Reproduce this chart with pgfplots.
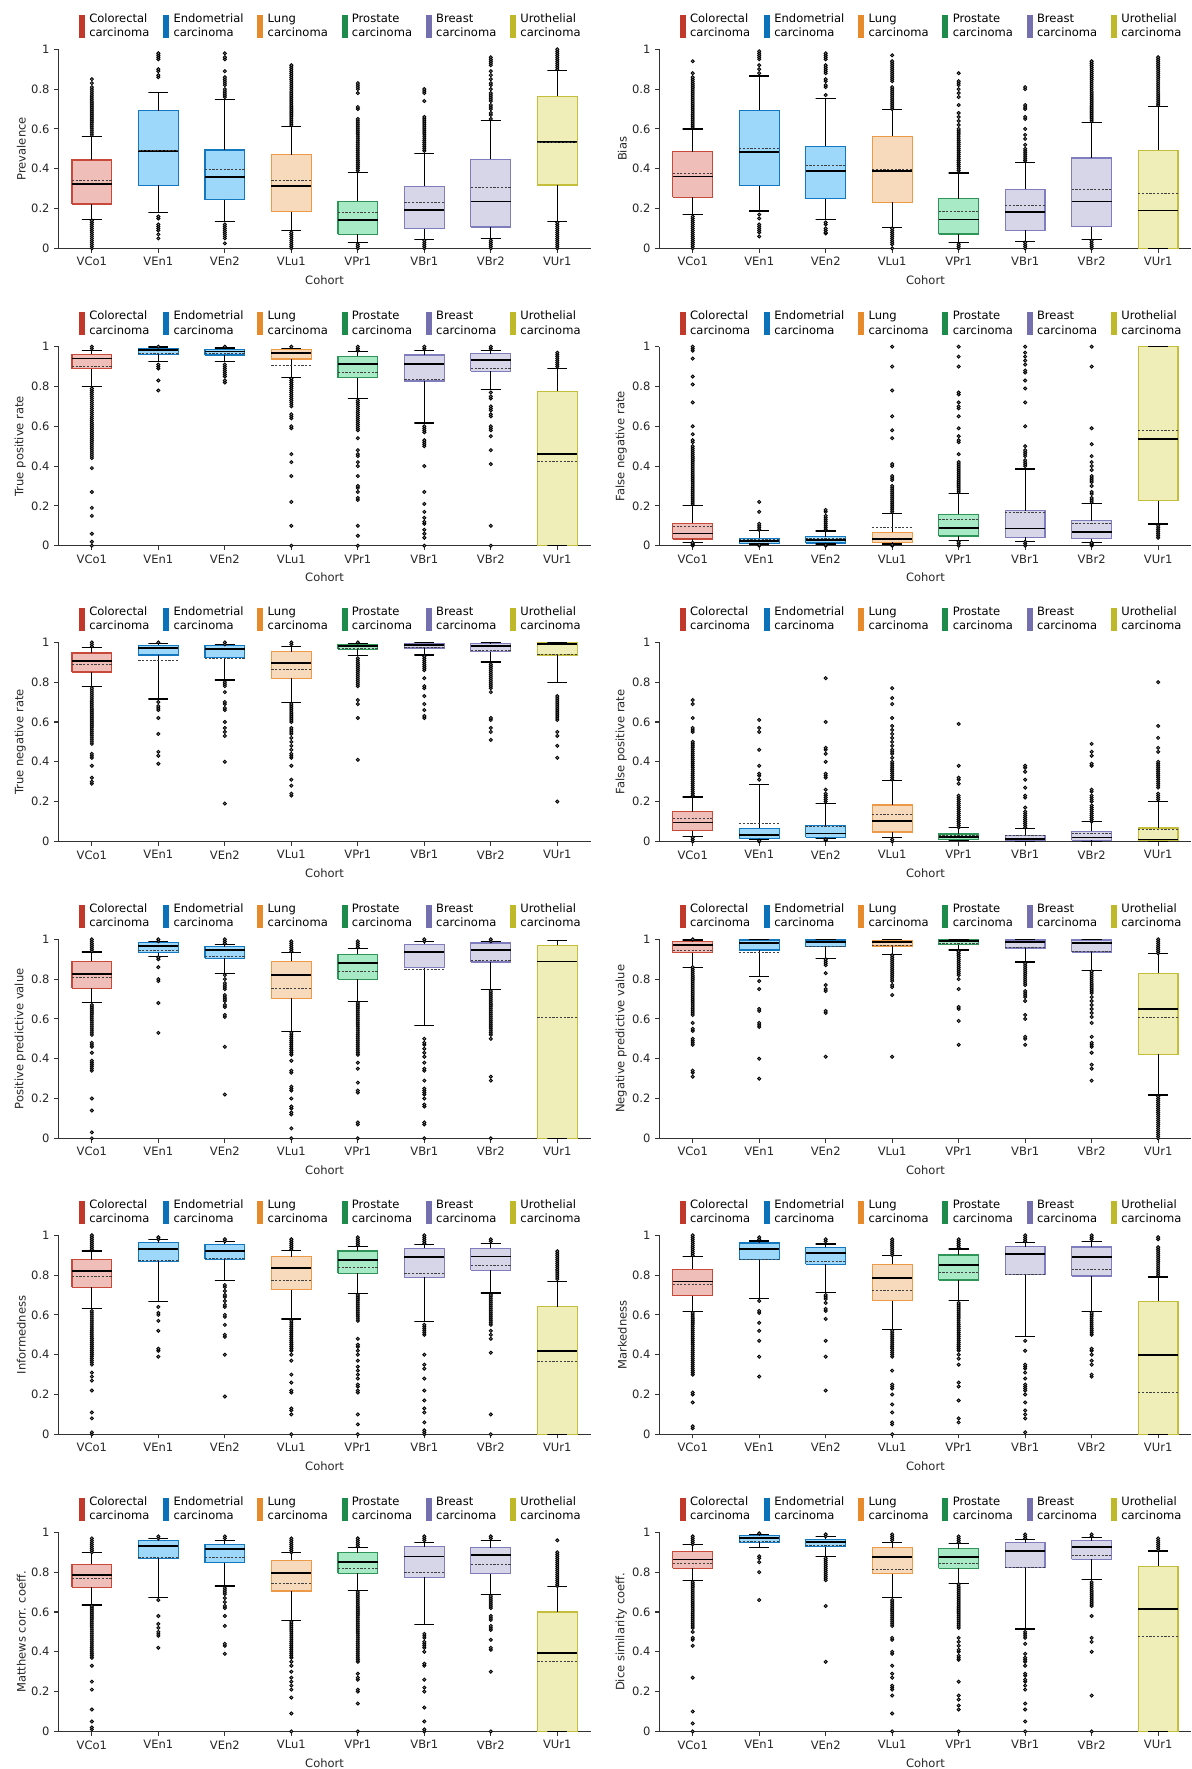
\documentclass[border=0pt]{standalone}
\usepackage{fontspec}
\setmainfont{DejaVu Sans}
\usepackage{pgfplots}
\pgfplotsset{compat=1.18}
\definecolor{cCo}{HTML}{C0392B}
\definecolor{cEn}{HTML}{0B72BA}
\definecolor{cLu}{HTML}{E68A2C}
\definecolor{cPr}{HTML}{1E8A4C}
\definecolor{cBr}{HTML}{7470B0}
\definecolor{cUr}{HTML}{BFB829}
\definecolor{eCo}{HTML}{C8483A}
\definecolor{eEn}{HTML}{1478C0}
\definecolor{eLu}{HTML}{EC9A48}
\definecolor{ePr}{HTML}{2E9458}
\definecolor{eBr}{HTML}{7F7DBD}
\definecolor{eUr}{HTML}{C4BE3A}
\definecolor{fCo}{HTML}{F0BEB8}
\definecolor{fEn}{HTML}{9DD8FA}
\definecolor{fLu}{HTML}{F6DABB}
\definecolor{fPr}{HTML}{A9EAC6}
\definecolor{fBr}{HTML}{D7D6E9}
\definecolor{fUr}{HTML}{EFEDB8}
\newcommand\fs{\fontsize{8.3pt}{10.3pt}\selectfont}
\pgfplotsset{
 legbar/.style={legend image code/.code={\fill[#1] (0pt,-7.4pt) rectangle (3.6pt,8.2pt);}},
 bxs/.style={draw=e#1, fill=f#1, line width=0.9pt, line join=miter, mark=none},
 whs/.style={black, line width=0.9pt, mark=none},
 meds/.style={black, line width=1.3pt, mark=none},
 avgs/.style={black!75, line width=0.6pt, dash pattern=on 1.6pt off 1.1pt, mark=none},
 outs/.style={only marks, mark=*, mark size=1.15pt, mark options={draw=black, fill=black!45, line width=0.6pt, solid}},
 pan/.style={
   scale only axis, width=383pt, height=143.3pt, anchor=north west,
   xmin=-0.5, xmax=7.5, ymin=0, ymax=1, clip=false,
   axis x line=bottom, axis y line=left,
   axis line style={-, black!80, line width=0.8pt},
   xtick={0,1,2,3,4,5,6,7},
   xticklabels={VCo1,VEn1,VEn2,VLu1,VPr1,VBr1,VBr2,VUr1},
   ytick={0,0.2,0.4,0.6,0.8,1},
   tick align=outside, major tick length=3pt,
   tick style={black!80, line width=0.8pt},
   xlabel={Cohort}, ylabel shift=-3pt,
   tick label style={font=\fs, text=black!85},
   label style={font=\fs, text=black!85},
   /pgf/number format/assume math mode=true,
   legend columns=6, legend cell align=left,
   legend style={draw=none, fill=none, at={(0,1)}, anchor=south west,
     xshift=14.4pt, yshift=5.8pt, inner sep=0pt, font=\fs,
     nodes={inner sep=0pt, text depth={}},
     /tikz/every odd column/.append style={column sep=3.5pt},
     /tikz/every even column/.append style={column sep=9.9pt}},
 }}
\newcommand\lt[1]{\begin{tabular}[b]{@{}l@{}}#1\\carcinoma\end{tabular}}
\newcommand\leg{%
 \addlegendimage{legbar=cCo}\addlegendentry{\lt{Colorectal}}%
 \addlegendimage{legbar=cEn}\addlegendentry{\lt{Endometrial}}%
 \addlegendimage{legbar=cLu}\addlegendentry{\lt{Lung}}%
 \addlegendimage{legbar=cPr}\addlegendentry{\lt{Prostate}}%
 \addlegendimage{legbar=cBr}\addlegendentry{\lt{Breast}}%
 \addlegendimage{legbar=cUr}\addlegendentry{\lt{Urothelial}}}
% pos, family, lower whisker, Q1, median, Q3, upper whisker, mean, outliers
\newcommand\bxcore[8]{%
 \pgfmathsetmacro\xl{#1-0.3}\pgfmathsetmacro\xr{#1+0.3}%
 \pgfmathsetmacro\wl{#1-0.15}\pgfmathsetmacro\wr{#1+0.15}%
 \edef\doplot{%
  \noexpand\addplot[bxs=#2] coordinates {(\xl,#4)(\xr,#4)(\xr,#6)(\xl,#6)(\xl,#4)};%
  \noexpand\addplot[whs] coordinates {(#1,#6)(#1,#7)(\wl,#7)(\wr,#7)};%
  \noexpand\addplot[whs] coordinates {(#1,#4)(#1,#3)(\wl,#3)(\wr,#3)};%
  \noexpand\addplot[meds] coordinates {(\xl,#5)(\xr,#5)};%
  \noexpand\addplot[avgs] coordinates {(\xl,#8)(\xr,#8)};}%
 \doplot}
\newcommand\bp[9]{%
 \bxcore{#1}{#2}{#3}{#4}{#5}{#6}{#7}{#8}%
 \gdef\olist{}\foreach \ov in {#9}{\xdef\olist{\olist(#1,\ov)}}%
 \edef\doplot{\noexpand\addplot[outs] coordinates {\olist};}%
 \doplot}
\newcommand\bpn[8]{\bxcore{#1}{#2}{#3}{#4}{#5}{#6}{#7}{#8}}
\begin{document}
\begin{tikzpicture}
\path[use as bounding box] (0,0) rectangle (858.24pt,-1273.68pt);
% ---------------- Prevalence
\begin{axis}[pan, at={(42.2pt,-35.5pt)}, ylabel={Prevalence}]
\leg
\bp{0}{Co}{0.146}{0.223}{0.322}{0.444}{0.563}{0.342}{0,0.01,0.02,0.03,0.04,0.05,0.06,0.07,0.08,0.09,0.1,0.11,0.12,0.13,0.14,0.57,0.58,0.59,0.6,0.61,0.62,0.63,0.64,0.65,0.66,0.67,0.68,0.69,0.7,0.71,0.72,0.73,0.74,0.75,0.76,0.77,0.78,0.79,0.8,0.81,0.83,0.85}
\bp{1}{En}{0.181}{0.317}{0.489}{0.692}{0.784}{0.492}{0.05,0.07,0.09,0.1,0.11,0.12,0.15,0.16,0.86,0.87,0.89,0.9,0.95,0.96,0.97,0.98}
\bp{2}{En}{0.134}{0.245}{0.360}{0.494}{0.747}{0.399}{0.025,0.05,0.06,0.07,0.08,0.09,0.1,0.11,0.12,0.76,0.77,0.78,0.79,0.8,0.82,0.83,0.84,0.85,0.86,0.89,0.95,0.96,0.98}
\bp{3}{Lu}{0.090}{0.184}{0.315}{0.471}{0.611}{0.340}{0,0.01,0.02,0.03,0.04,0.05,0.06,0.07,0.08,0.62,0.63,0.64,0.65,0.66,0.67,0.68,0.69,0.7,0.71,0.72,0.73,0.74,0.75,0.76,0.77,0.78,0.79,0.8,0.81,0.82,0.83,0.84,0.85,0.86,0.87,0.88,0.89,0.9,0.91,0.92}
\bp{4}{Pr}{0.028}{0.070}{0.141}{0.236}{0.380}{0.181}{0,0.01,0.02,0.39,0.4,0.41,0.42,0.43,0.44,0.45,0.46,0.47,0.48,0.49,0.5,0.51,0.52,0.53,0.54,0.55,0.56,0.57,0.58,0.59,0.6,0.61,0.62,0.63,0.64,0.65,0.7,0.71,0.78,0.8,0.81,0.82,0.83}
\bp{5}{Br}{0.045}{0.099}{0.194}{0.312}{0.477}{0.229}{0,0.01,0.02,0.03,0.04,0.49,0.5,0.51,0.52,0.53,0.54,0.55,0.56,0.57,0.58,0.59,0.6,0.61,0.62,0.63,0.64,0.65,0.66,0.74,0.78,0.79,0.8}
\bp{6}{Br}{0.050}{0.107}{0.235}{0.447}{0.643}{0.308}{0,0.01,0.02,0.03,0.04,0.65,0.67,0.68,0.7,0.71,0.72,0.74,0.75,0.76,0.77,0.78,0.8,0.82,0.83,0.85,0.87,0.89,0.92,0.93,0.94,0.95,0.96}
\bp{7}{Ur}{0.134}{0.318}{0.534}{0.764}{0.894}{0.533}{0,0.01,0.02,0.03,0.04,0.05,0.06,0.07,0.08,0.09,0.1,0.11,0.12,0.13,0.9,0.91,0.92,0.93,0.94,0.95,0.96,0.97,0.98,0.99,1}
\end{axis}
% ---------------- Bias
\begin{axis}[pan, at={(474.8pt,-35.5pt)}, ylabel={Bias}]
\leg
\bp{0}{Co}{0.171}{0.257}{0.361}{0.486}{0.600}{0.378}{0,0.01,0.02,0.03,0.04,0.05,0.06,0.07,0.08,0.09,0.1,0.11,0.12,0.13,0.14,0.15,0.16,0.61,0.62,0.63,0.64,0.65,0.66,0.67,0.68,0.69,0.7,0.71,0.72,0.73,0.74,0.75,0.76,0.77,0.78,0.79,0.8,0.81,0.82,0.83,0.84,0.85,0.86,0.88,0.94}
\bp{1}{En}{0.188}{0.314}{0.484}{0.694}{0.866}{0.501}{0.06,0.08,0.09,0.1,0.11,0.12,0.15,0.17,0.88,0.9,0.92,0.95,0.96,0.97,0.98,0.99}
\bp{2}{En}{0.143}{0.249}{0.388}{0.513}{0.751}{0.417}{0.075,0.08,0.09,0.1,0.12,0.13,0.77,0.81,0.82,0.84,0.85,0.88,0.89,0.9,0.91,0.92,0.95,0.96,0.97,0.98}
\bp{3}{Lu}{0.106}{0.232}{0.387}{0.563}{0.699}{0.397}{0,0.02,0.03,0.04,0.05,0.06,0.07,0.08,0.09,0.1,0.7,0.71,0.72,0.73,0.74,0.75,0.76,0.77,0.78,0.79,0.8,0.81,0.84,0.85,0.86,0.87,0.88,0.89,0.9,0.91,0.92,0.93,0.94,0.97}
\bp{4}{Pr}{0.030}{0.072}{0.145}{0.250}{0.378}{0.183}{0,0.01,0.02,0.39,0.4,0.41,0.42,0.43,0.44,0.45,0.46,0.47,0.48,0.49,0.5,0.51,0.52,0.53,0.54,0.55,0.56,0.57,0.58,0.59,0.6,0.62,0.64,0.66,0.68,0.72,0.76,0.78,0.8,0.82,0.83,0.84,0.88}
\bp{5}{Br}{0.035}{0.091}{0.183}{0.296}{0.432}{0.215}{0,0.01,0.02,0.03,0.44,0.45,0.46,0.47,0.48,0.49,0.5,0.52,0.55,0.57,0.6,0.65,0.66,0.7,0.71,0.72,0.8,0.81}
\bp{6}{Br}{0.044}{0.109}{0.235}{0.454}{0.634}{0.297}{0,0.01,0.02,0.03,0.04,0.64,0.65,0.66,0.67,0.68,0.69,0.7,0.71,0.72,0.73,0.74,0.75,0.76,0.77,0.78,0.79,0.8,0.81,0.82,0.83,0.84,0.85,0.86,0.87,0.88,0.89,0.9,0.91,0.92,0.93,0.94}
\bp{7}{Ur}{0}{0}{0.190}{0.492}{0.711}{0.276}{0.72,0.73,0.74,0.75,0.76,0.77,0.78,0.79,0.8,0.81,0.82,0.83,0.84,0.85,0.86,0.87,0.88,0.89,0.9,0.91,0.92,0.93,0.94,0.95,0.96}
\end{axis}
% ---------------- TPR
\begin{axis}[pan, at={(42.2pt,-249.6pt)}, ylabel={True positive rate}]
\leg
\bp{0}{Co}{0.798}{0.889}{0.941}{0.961}{0.982}{0.903}{0,0.02,0.06,0.15,0.19,0.27,0.39,0.44,0.45,0.46,0.47,0.48,0.49,0.5,0.51,0.52,0.53,0.54,0.55,0.56,0.57,0.58,0.59,0.6,0.61,0.62,0.63,0.64,0.65,0.66,0.67,0.68,0.69,0.7,0.71,0.72,0.73,0.74,0.75,0.76,0.77,0.78,0.79,0.99,1}
\bp{1}{En}{0.926}{0.961}{0.982}{0.992}{0.998}{0.966}{0.78,0.83,0.89,0.9,0.91,1}
\bp{2}{En}{0.926}{0.958}{0.976}{0.987}{0.993}{0.966}{0.82,0.83,0.85,0.86,0.87,0.88,0.89,0.9,0.91,1}
\bp{3}{Lu}{0.845}{0.938}{0.970}{0.987}{0.992}{0.906}{0,0.1,0.22,0.35,0.42,0.46,0.59,0.6,0.64,0.65,0.66,0.7,0.71,0.72,0.73,0.74,0.75,0.76,0.77,0.78,0.79,0.8,0.81,0.82,0.83,0.84,1}
\bp{4}{Pr}{0.741}{0.844}{0.914}{0.951}{0.975}{0.869}{0,0.05,0.1,0.23,0.24,0.27,0.29,0.3,0.35,0.4,0.42,0.45,0.46,0.48,0.54,0.58,0.59,0.6,0.61,0.62,0.63,0.64,0.65,0.66,0.67,0.68,0.69,0.7,0.71,0.72,0.73,0.98,0.99,1}
\bp{5}{Br}{0.617}{0.827}{0.914}{0.958}{0.982}{0.834}{0,0.04,0.06,0.08,0.11,0.12,0.14,0.17,0.21,0.27,0.4,0.5,0.51,0.52,0.53,0.57,0.58,0.59,0.6,0.99,1}
\bp{6}{Br}{0.785}{0.876}{0.934}{0.965}{0.980}{0.891}{0,0.1,0.41,0.48,0.55,0.58,0.59,0.6,0.65,0.66,0.68,0.69,0.7,0.74,0.75,0.77,0.99,1}
\bp{7}{Ur}{0}{0}{0.462}{0.776}{0.891}{0.424}{0.9,0.91,0.92,0.93,0.94,0.95,0.96,0.97}
\end{axis}
% ---------------- FNR
\begin{axis}[pan, at={(474.8pt,-249.6pt)}, ylabel={False negative rate}]
\leg
\bp{0}{Co}{0.017}{0.034}{0.061}{0.113}{0.203}{0.099}{0,0.005,0.01,0.015,0.21,0.22,0.23,0.24,0.25,0.26,0.27,0.28,0.29,0.3,0.31,0.32,0.33,0.34,0.35,0.36,0.37,0.38,0.39,0.4,0.41,0.42,0.43,0.44,0.45,0.46,0.47,0.48,0.49,0.5,0.52,0.53,0.56,0.6,0.72,0.81,0.85,0.94,0.98,0.99,1}
\bp{1}{En}{0.008}{0.012}{0.022}{0.037}{0.076}{0.034}{0,0.004,0.08,0.09,0.1,0.11,0.17,0.22}
\bp{2}{En}{0.008}{0.013}{0.027}{0.045}{0.074}{0.035}{0,0.004,0.08,0.09,0.1,0.11,0.12,0.13,0.14,0.15,0.17,0.18}
\bp{3}{Lu}{0.008}{0.017}{0.034}{0.067}{0.160}{0.094}{0,0.004,0.17,0.18,0.19,0.2,0.21,0.22,0.23,0.24,0.25,0.26,0.27,0.28,0.29,0.3,0.33,0.34,0.35,0.4,0.41,0.54,0.58,0.65,0.78,0.9,1}
\bp{4}{Pr}{0.027}{0.049}{0.087}{0.158}{0.261}{0.134}{0,0.01,0.02,0.27,0.28,0.29,0.3,0.31,0.32,0.33,0.34,0.35,0.36,0.37,0.38,0.39,0.4,0.41,0.42,0.46,0.52,0.53,0.55,0.59,0.65,0.69,0.7,0.72,0.76,0.77,0.9,0.95,1}
\bp{5}{Br}{0.022}{0.042}{0.086}{0.175}{0.385}{0.165}{0,0.01,0.02,0.4,0.41,0.42,0.43,0.45,0.46,0.47,0.48,0.5,0.6,0.72,0.79,0.83,0.87,0.88,0.91,0.93,0.95,0.97,1}
\bp{6}{Br}{0.017}{0.035}{0.069}{0.126}{0.213}{0.111}{0,0.005,0.01,0.015,0.22,0.23,0.24,0.26,0.27,0.3,0.32,0.33,0.34,0.35,0.38,0.4,0.42,0.45,0.51,0.59,0.9,1}
\bp{7}{Ur}{0.109}{0.227}{0.538}{1}{1}{0.578}{0.04,0.05,0.06,0.07,0.08,0.09,0.1}
\end{axis}
% ---------------- TNR
\begin{axis}[pan, at={(42.2pt,-462.5pt)}, ylabel={True negative rate}]
\leg
\bp{0}{Co}{0.779}{0.851}{0.906}{0.946}{0.975}{0.888}{0.29,0.3,0.32,0.38,0.42,0.43,0.44,0.49,0.5,0.51,0.52,0.53,0.54,0.55,0.56,0.57,0.58,0.59,0.6,0.61,0.62,0.63,0.64,0.65,0.66,0.67,0.68,0.69,0.7,0.71,0.72,0.73,0.74,0.75,0.76,0.77,0.98,0.99,1}
\bp{1}{En}{0.715}{0.936}{0.970}{0.985}{0.993}{0.908}{0.39,0.43,0.45,0.54,0.62,0.66,0.67,0.68,0.7,1}
\bp{2}{En}{0.811}{0.923}{0.965}{0.983}{0.988}{0.921}{0.19,0.4,0.53,0.55,0.57,0.6,0.66,0.67,0.69,0.7,0.75,0.78,0.79,0.8,0.99,1}
\bp{3}{Lu}{0.697}{0.819}{0.898}{0.953}{0.980}{0.864}{0.23,0.24,0.28,0.31,0.38,0.42,0.43,0.44,0.46,0.48,0.5,0.52,0.54,0.55,0.56,0.57,0.6,0.61,0.62,0.63,0.64,0.65,0.66,0.67,0.68,0.69,0.99,1}
\bp{4}{Pr}{0.933}{0.965}{0.983}{0.990}{0.995}{0.970}{0.41,0.62,0.69,0.71,0.78,0.79,0.8,0.81,0.82,0.83,0.84,0.85,0.86,0.87,0.88,0.89,0.9,0.91,0.92,1}
\bp{5}{Br}{0.936}{0.972}{0.987}{0.995}{1}{0.975}{0.62,0.63,0.66,0.69,0.73,0.77,0.78,0.82,0.86,0.87,0.88,0.89,0.9,0.91,0.92,0.93}
\bp{6}{Br}{0.901}{0.953}{0.983}{0.993}{1}{0.958}{0.51,0.55,0.57,0.61,0.62,0.75,0.77,0.78,0.79,0.8,0.81,0.82,0.83,0.84,0.85,0.86,0.87,0.88,0.89}
\bp{7}{Ur}{0.799}{0.936}{0.990}{1}{1}{0.940}{0.2,0.42,0.48,0.53,0.55,0.61,0.62,0.63,0.64,0.65,0.66,0.67,0.68,0.69,0.7,0.71,0.72,0.73}
\end{axis}
% ---------------- FPR
\begin{axis}[pan, at={(474.8pt,-462.5pt)}, ylabel={False positive rate}]
\leg
\bp{0}{Co}{0.023}{0.054}{0.095}{0.149}{0.223}{0.114}{0,0.01,0.02,0.23,0.24,0.25,0.26,0.27,0.28,0.29,0.3,0.31,0.32,0.33,0.34,0.35,0.36,0.37,0.38,0.39,0.4,0.41,0.42,0.43,0.44,0.45,0.46,0.47,0.48,0.49,0.5,0.55,0.56,0.57,0.62,0.69,0.71}
\bp{1}{En}{0.008}{0.013}{0.034}{0.065}{0.285}{0.090}{0,0.004,0.31,0.33,0.34,0.38,0.46,0.55,0.57,0.61}
\bp{2}{En}{0.013}{0.020}{0.040}{0.079}{0.189}{0.077}{0.005,0.01,0.2,0.21,0.22,0.23,0.24,0.26,0.32,0.33,0.34,0.4,0.44,0.46,0.47,0.6,0.82}
\bp{3}{Lu}{0.020}{0.047}{0.104}{0.183}{0.305}{0.136}{0,0.01,0.31,0.32,0.33,0.34,0.35,0.36,0.37,0.38,0.39,0.4,0.42,0.44,0.45,0.46,0.48,0.5,0.52,0.54,0.56,0.58,0.62,0.69,0.72,0.77}
\bp{4}{Pr}{0.003}{0.008}{0.022}{0.037}{0.069}{0.032}{0.07,0.08,0.09,0.1,0.11,0.12,0.13,0.14,0.15,0.16,0.17,0.18,0.19,0.2,0.21,0.22,0.23,0.29,0.31,0.32,0.38,0.59}
\bp{5}{Br}{0}{0.003}{0.013}{0.030}{0.065}{0.030}{0.07,0.08,0.09,0.1,0.11,0.12,0.13,0.14,0.15,0.17,0.22,0.23,0.27,0.31,0.35,0.37,0.38}
\bp{6}{Br}{0}{0.005}{0.020}{0.050}{0.099}{0.040}{0.1,0.11,0.12,0.13,0.14,0.15,0.16,0.17,0.18,0.2,0.21,0.22,0.23,0.25,0.26,0.38,0.39,0.43,0.45,0.49}
\bp{7}{Ur}{0}{0.003}{0.010}{0.067}{0.199}{0.060}{0.21,0.22,0.23,0.24,0.27,0.28,0.29,0.3,0.31,0.32,0.33,0.34,0.35,0.36,0.37,0.38,0.39,0.4,0.45,0.47,0.52,0.58,0.8}
\end{axis}
% ---------------- PPV
\begin{axis}[pan, at={(42.2pt,-676.3pt)}, ylabel={Positive predictive value}]
\leg
\bp{0}{Co}{0.682}{0.754}{0.826}{0.889}{0.936}{0.807}{0,0.03,0.14,0.2,0.34,0.35,0.36,0.37,0.38,0.39,0.43,0.46,0.47,0.48,0.52,0.53,0.54,0.55,0.56,0.57,0.58,0.59,0.6,0.61,0.62,0.63,0.64,0.65,0.66,0.67,0.94,0.95,0.96,0.97,0.98,0.99,1}
\bp{1}{En}{0.915}{0.933}{0.968}{0.983}{0.988}{0.946}{0.53,0.68,0.79,0.8,0.86,0.9,0.91,0.99,1}
\bp{2}{En}{0.827}{0.905}{0.946}{0.963}{0.975}{0.915}{0.22,0.46,0.61,0.62,0.66,0.67,0.69,0.7,0.71,0.72,0.75,0.76,0.77,0.78,0.8,0.82,0.98,0.99,1}
\bp{3}{Lu}{0.538}{0.704}{0.819}{0.889}{0.935}{0.754}{0,0.05,0.12,0.13,0.15,0.16,0.2,0.24,0.25,0.26,0.33,0.34,0.39,0.42,0.43,0.44,0.45,0.46,0.47,0.48,0.49,0.5,0.51,0.52,0.53,0.94,0.95,0.96,0.97,0.98,0.99}
\bp{4}{Pr}{0.688}{0.799}{0.881}{0.925}{0.955}{0.839}{0,0.07,0.08,0.23,0.24,0.28,0.35,0.38,0.42,0.43,0.44,0.45,0.46,0.47,0.48,0.49,0.5,0.51,0.52,0.53,0.54,0.55,0.56,0.57,0.58,0.59,0.6,0.61,0.62,0.63,0.64,0.65,0.66,0.67,0.68,0.96,0.97,0.98,0.99}
\bp{5}{Br}{0.566}{0.858}{0.938}{0.975}{0.988}{0.849}{0,0.07,0.08,0.16,0.17,0.2,0.22,0.23,0.24,0.25,0.29,0.34,0.35,0.38,0.41,0.43,0.45,0.47,0.48,0.5,0.99,1}
\bp{6}{Br}{0.747}{0.886}{0.948}{0.982}{0.988}{0.893}{0,0.29,0.31,0.5,0.52,0.53,0.54,0.55,0.56,0.57,0.58,0.59,0.6,0.61,0.62,0.63,0.64,0.65,0.66,0.67,0.68,0.69,0.7,0.71,0.72,0.73,0.74,0.99,1}
\bpn{7}{Ur}{0}{0}{0.889}{0.970}{0.995}{0.606}
\end{axis}
% ---------------- NPV
\begin{axis}[pan, at={(474.8pt,-676.3pt)}, ylabel={Negative predictive value}]
\leg
\bp{0}{Co}{0.859}{0.933}{0.970}{0.988}{0.997}{0.943}{0.31,0.33,0.34,0.47,0.48,0.49,0.5,0.54,0.55,0.58,0.62,0.63,0.64,0.65,0.66,0.67,0.68,0.69,0.7,0.71,0.72,0.73,0.74,0.75,0.76,0.77,0.78,0.79,0.8,0.81,0.82,0.83,0.84,0.85,0.86,1}
\bp{1}{En}{0.812}{0.946}{0.983}{0.997}{1}{0.933}{0.3,0.4,0.56,0.57,0.58,0.64,0.65,0.75,0.79}
\bp{2}{En}{0.904}{0.963}{0.988}{0.997}{1}{0.963}{0.41,0.63,0.64,0.74,0.75,0.77,0.83,0.87,0.88,0.89,0.9}
\bp{3}{Lu}{0.924}{0.966}{0.987}{0.995}{1}{0.971}{0.41,0.72,0.76,0.77,0.79,0.8,0.81,0.82,0.83,0.84,0.85,0.86,0.87,0.88,0.89,0.9,0.91,0.92}
\bp{4}{Pr}{0.946}{0.973}{0.990}{0.997}{1}{0.980}{0.47,0.59,0.65,0.66,0.75,0.8,0.82,0.83,0.84,0.85,0.86,0.87,0.88,0.89,0.9,0.91,0.92,0.93,0.94}
\bp{5}{Br}{0.886}{0.956}{0.987}{0.997}{1}{0.958}{0.47,0.5,0.51,0.6,0.62,0.69,0.71,0.72,0.73,0.74,0.77,0.78,0.79,0.8,0.81,0.82,0.83,0.84,0.85,0.86,0.87,0.88}
\bp{6}{Br}{0.845}{0.936}{0.983}{0.997}{1}{0.939}{0.29,0.35,0.37,0.43,0.46,0.47,0.48,0.51,0.58,0.61,0.63,0.65,0.67,0.69,0.71,0.73,0.74,0.75,0.76,0.77,0.78,0.79,0.8,0.81,0.82,0.83,0.84}
\bp{7}{Ur}{0.218}{0.422}{0.650}{0.830}{0.928}{0.610}{0,0.01,0.02,0.03,0.04,0.05,0.06,0.07,0.08,0.09,0.1,0.11,0.12,0.13,0.14,0.15,0.16,0.17,0.18,0.19,0.2,0.21,0.93,0.94,0.95,0.96,0.97,0.98,0.99,1}
\end{axis}
% ---------------- Informedness
\begin{axis}[pan, at={(42.2pt,-889.4pt)}, ylabel={Informedness}]
\leg
\bp{0}{Co}{0.633}{0.739}{0.822}{0.878}{0.921}{0.791}{0,0.01,0.08,0.11,0.22,0.27,0.29,0.31,0.35,0.36,0.37,0.38,0.39,0.4,0.41,0.42,0.43,0.44,0.45,0.46,0.47,0.48,0.49,0.5,0.51,0.52,0.53,0.54,0.55,0.56,0.57,0.58,0.59,0.6,0.61,0.62,0.93,0.94,0.95,0.96,0.97,0.98,0.99,1}
\bp{1}{En}{0.667}{0.869}{0.933}{0.963}{0.977}{0.874}{0.39,0.42,0.43,0.52,0.57,0.6,0.61,0.64,0.98,0.99}
\bp{2}{En}{0.771}{0.879}{0.920}{0.955}{0.968}{0.886}{0.19,0.4,0.49,0.5,0.55,0.59,0.6,0.64,0.65,0.67,0.69,0.7,0.72,0.74,0.75,0.97,0.98}
\bp{3}{Lu}{0.580}{0.727}{0.836}{0.893}{0.925}{0.774}{0,0.1,0.12,0.13,0.21,0.22,0.26,0.3,0.37,0.4,0.42,0.43,0.44,0.45,0.46,0.47,0.48,0.49,0.5,0.51,0.52,0.53,0.54,0.55,0.56,0.57,0.93,0.94,0.95,0.96,0.97,0.98}
\bp{4}{Pr}{0.707}{0.809}{0.874}{0.921}{0.943}{0.839}{0,0.05,0.1,0.21,0.22,0.24,0.25,0.28,0.3,0.32,0.34,0.37,0.4,0.42,0.44,0.45,0.48,0.57,0.58,0.59,0.6,0.61,0.62,0.63,0.64,0.65,0.66,0.67,0.68,0.69,0.7,0.95,0.96,0.97,0.98,0.99}
\bp{5}{Br}{0.568}{0.789}{0.891}{0.935}{0.955}{0.806}{0,0.01,0.02,0.06,0.11,0.13,0.17,0.22,0.28,0.33,0.35,0.4,0.5,0.51,0.52,0.53,0.54,0.55,0.96,0.97,0.98,0.99,1}
\bp{6}{Br}{0.710}{0.824}{0.893}{0.935}{0.960}{0.849}{0,0.1,0.41,0.48,0.5,0.52,0.55,0.56,0.57,0.58,0.59,0.6,0.61,0.62,0.63,0.64,0.65,0.66,0.67,0.68,0.69,0.7,0.97,0.98}
\bp{7}{Ur}{0}{0}{0.419}{0.642}{0.769}{0.367}{0.78,0.79,0.8,0.81,0.82,0.83,0.84,0.85,0.86,0.87,0.88,0.89,0.9,0.91,0.92}
\end{axis}
% ---------------- Markedness
\begin{axis}[pan, at={(474.8pt,-889.4pt)}, ylabel={Markedness}]
\leg
\bp{0}{Co}{0.618}{0.697}{0.768}{0.830}{0.894}{0.751}{0.03,0.04,0.16,0.2,0.21,0.3,0.31,0.32,0.33,0.34,0.35,0.36,0.37,0.38,0.39,0.4,0.41,0.42,0.43,0.44,0.45,0.46,0.47,0.48,0.49,0.5,0.51,0.52,0.53,0.54,0.55,0.56,0.57,0.58,0.59,0.6,0.61,0.9,0.91,0.92,0.93,0.94,0.95,0.96,0.97,0.98,0.99,1}
\bp{1}{En}{0.682}{0.877}{0.933}{0.961}{0.971}{0.877}{0.29,0.39,0.47,0.52,0.56,0.61,0.62,0.67,0.98,0.99}
\bp{2}{En}{0.711}{0.855}{0.913}{0.939}{0.956}{0.871}{0.22,0.39,0.47,0.58,0.62,0.63,0.66,0.68,0.69,0.7,0.97,0.98}
\bp{3}{Lu}{0.528}{0.671}{0.785}{0.855}{0.897}{0.724}{0,0.05,0.06,0.11,0.15,0.2,0.23,0.24,0.25,0.32,0.39,0.4,0.41,0.42,0.43,0.44,0.45,0.46,0.47,0.48,0.49,0.5,0.51,0.52,0.9,0.91,0.92,0.93,0.94,0.95,0.96,0.97,0.98}
\bp{4}{Pr}{0.671}{0.775}{0.852}{0.901}{0.931}{0.813}{0.06,0.08,0.17,0.24,0.26,0.35,0.38,0.4,0.42,0.43,0.44,0.45,0.46,0.47,0.48,0.49,0.5,0.51,0.52,0.53,0.54,0.55,0.56,0.57,0.58,0.59,0.6,0.61,0.62,0.63,0.64,0.65,0.66,0.94,0.95,0.96,0.97,0.98}
\bp{5}{Br}{0.492}{0.802}{0.906}{0.943}{0.965}{0.802}{0.01,0.08,0.1,0.12,0.16,0.2,0.22,0.23,0.24,0.25,0.28,0.31,0.33,0.34,0.35,0.42,0.47,0.97,0.98,0.99,1}
\bp{6}{Br}{0.618}{0.795}{0.891}{0.941}{0.970}{0.829}{0.29,0.3,0.35,0.37,0.4,0.42,0.43,0.5,0.51,0.52,0.53,0.54,0.55,0.56,0.57,0.58,0.59,0.6,0.61,0.98,0.99,1}
\bp{7}{Ur}{0}{0}{0.397}{0.669}{0.790}{0.210}{0.8,0.81,0.82,0.83,0.84,0.85,0.86,0.87,0.88,0.89,0.9,0.91,0.92,0.93,0.94,0.98,0.99}
\end{axis}
% ---------------- MCC
\begin{axis}[pan, at={(42.2pt,-1103.3pt)}, ylabel={Matthews corr. coeff.}]
\leg
\bp{0}{Co}{0.635}{0.724}{0.787}{0.839}{0.898}{0.769}{0.01,0.02,0.05,0.11,0.21,0.25,0.33,0.37,0.38,0.39,0.4,0.41,0.42,0.43,0.44,0.45,0.46,0.47,0.48,0.49,0.5,0.51,0.52,0.53,0.54,0.55,0.56,0.57,0.58,0.59,0.6,0.61,0.62,0.63,0.9,0.91,0.92,0.93,0.94,0.95,0.96,0.97}
\bp{1}{En}{0.673}{0.869}{0.931}{0.958}{0.968}{0.873}{0.42,0.48,0.49,0.5,0.52,0.54,0.58,0.66,0.97,0.98}
\bp{2}{En}{0.730}{0.848}{0.915}{0.940}{0.958}{0.874}{0.39,0.43,0.44,0.53,0.58,0.62,0.63,0.65,0.67,0.69,0.7,0.71,0.72,0.97,0.98}
\bp{3}{Lu}{0.559}{0.705}{0.797}{0.859}{0.899}{0.744}{0,0.09,0.17,0.21,0.23,0.25,0.27,0.3,0.33,0.35,0.37,0.38,0.39,0.4,0.41,0.42,0.43,0.44,0.45,0.46,0.47,0.48,0.49,0.5,0.51,0.52,0.53,0.54,0.55,0.9,0.91,0.92,0.93,0.94,0.95,0.96,0.97}
\bp{4}{Pr}{0.709}{0.794}{0.853}{0.898}{0.925}{0.819}{0,0.14,0.2,0.21,0.26,0.27,0.29,0.35,0.36,0.37,0.38,0.39,0.4,0.41,0.42,0.43,0.44,0.45,0.46,0.47,0.48,0.49,0.5,0.51,0.52,0.53,0.54,0.55,0.56,0.57,0.58,0.59,0.6,0.61,0.62,0.63,0.64,0.65,0.66,0.67,0.68,0.69,0.7,0.93,0.94,0.95,0.96,0.97}
\bp{5}{Br}{0.538}{0.774}{0.879}{0.928}{0.951}{0.799}{0,0.01,0.05,0.12,0.2,0.22,0.26,0.33,0.34,0.4,0.42,0.43,0.44,0.45,0.47,0.48,0.49,0.96,0.97,0.98}
\bp{6}{Br}{0.688}{0.792}{0.886}{0.923}{0.960}{0.838}{0,0.3,0.41,0.42,0.46,0.51,0.52,0.53,0.56,0.57,0.58,0.62,0.63,0.64,0.65,0.66,0.67,0.68,0.97,0.98}
\bp{7}{Ur}{0}{0}{0.395}{0.600}{0.727}{0.350}{0.73,0.74,0.75,0.76,0.77,0.78,0.79,0.8,0.81,0.82,0.83,0.84,0.85,0.86,0.87,0.88,0.89,0.9,0.96}
\end{axis}
% ---------------- Dice
\begin{axis}[pan, at={(474.8pt,-1103.3pt)}, ylabel={Dice similarity coeff.}]
\leg
\bp{0}{Co}{0.759}{0.819}{0.864}{0.903}{0.938}{0.844}{0,0.04,0.1,0.27,0.43,0.46,0.47,0.5,0.52,0.53,0.54,0.55,0.56,0.57,0.58,0.59,0.6,0.61,0.62,0.63,0.64,0.65,0.66,0.67,0.68,0.69,0.7,0.71,0.72,0.73,0.74,0.75,0.94,0.95,0.96,0.97,0.98}
\bp{1}{En}{0.923}{0.950}{0.970}{0.983}{0.990}{0.956}{0.66,0.8,0.85,0.87,0.88,0.995}
\bp{2}{En}{0.879}{0.928}{0.953}{0.965}{0.978}{0.935}{0.35,0.63,0.76,0.77,0.78,0.79,0.8,0.81,0.82,0.83,0.84,0.85,0.86,0.87,0.98,0.99}
\bp{3}{Lu}{0.673}{0.792}{0.878}{0.923}{0.951}{0.814}{0,0.09,0.18,0.21,0.22,0.23,0.27,0.29,0.33,0.39,0.4,0.46,0.47,0.53,0.54,0.55,0.56,0.57,0.58,0.59,0.6,0.61,0.62,0.63,0.64,0.65,0.66,0.96,0.97,0.98,0.99}
\bp{4}{Pr}{0.742}{0.819}{0.878}{0.918}{0.945}{0.844}{0,0.11,0.13,0.16,0.18,0.25,0.36,0.37,0.38,0.4,0.41,0.43,0.45,0.47,0.52,0.53,0.54,0.55,0.56,0.57,0.58,0.59,0.6,0.61,0.62,0.63,0.64,0.65,0.66,0.67,0.68,0.69,0.7,0.71,0.72,0.73,0.74,0.95,0.96,0.97,0.98}
\bp{5}{Br}{0.514}{0.822}{0.905}{0.948}{0.966}{0.824}{0,0.05,0.11,0.14,0.21,0.23,0.25,0.26,0.28,0.29,0.33,0.35,0.36,0.37,0.39,0.44,0.47,0.48,0.49,0.5,0.97,0.98,0.99}
\bp{6}{Br}{0.765}{0.864}{0.926}{0.958}{0.975}{0.883}{0,0.18,0.4,0.45,0.47,0.58,0.63,0.64,0.65,0.66,0.67,0.68,0.69,0.7,0.71,0.72,0.73,0.74,0.75,0.98,0.99}
\bp{7}{Ur}{0}{0}{0.616}{0.829}{0.906}{0.477}{0.91,0.92,0.93,0.94,0.95,0.96,0.97}
\end{axis}
\end{tikzpicture}
\end{document}
